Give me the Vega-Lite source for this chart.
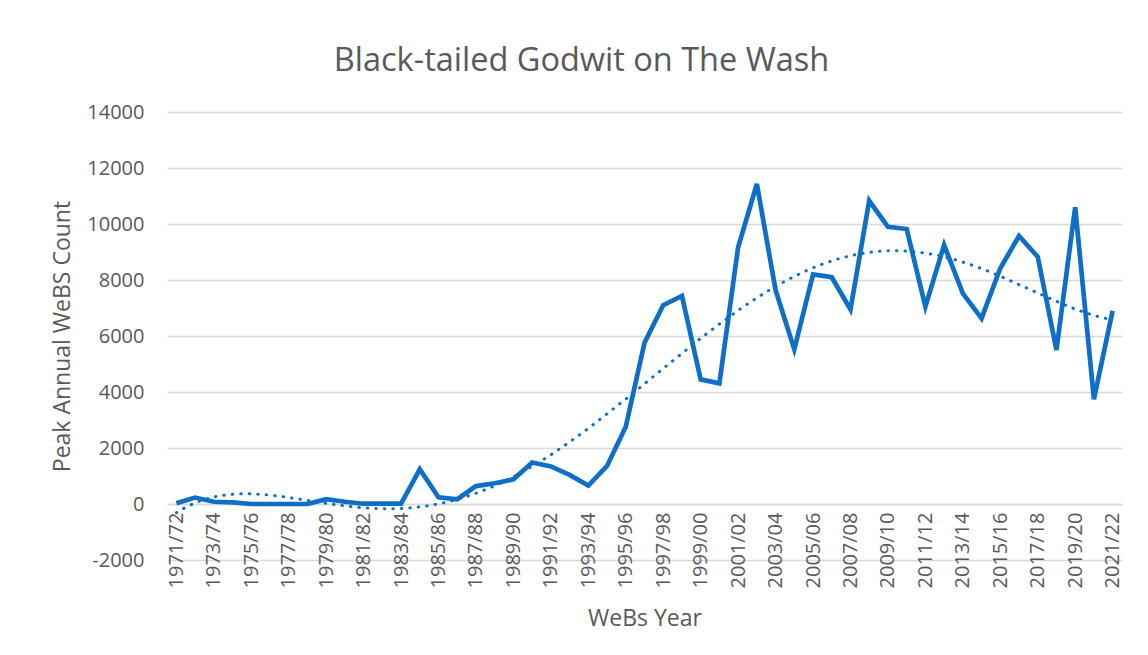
{
  "$schema": "https://vega.github.io/schema/vega-lite/v6.json",
  "autosize": {"type": "none"},
  "width": 955,
  "height": 448,
  "padding": {"left": 167, "top": 112, "right": 26, "bottom": 95},
  "background": "white",
  "config": {
    "view": {"stroke": null},
    "font": "Open Sans",
    "title": {"font": "Open Sans", "fontSize": 32.5, "fontWeight": "normal", "color": "#595959", "anchor": "middle", "frame": "group", "baseline": "alphabetic", "offset": 25, "dx": -63}
  },
  "title": "Black-tailed Godwit on The Wash",
  "data": {
    "values": [
      {"season": "1971/72", "year": 1971, "count": 30},
      {"season": "1972/73", "year": 1972, "count": 230},
      {"season": "1973/74", "year": 1973, "count": 80},
      {"season": "1974/75", "year": 1974, "count": 60},
      {"season": "1975/76", "year": 1975, "count": 0},
      {"season": "1976/77", "year": 1976, "count": 0},
      {"season": "1977/78", "year": 1977, "count": 0},
      {"season": "1978/79", "year": 1978, "count": 0},
      {"season": "1979/80", "year": 1979, "count": 170},
      {"season": "1980/81", "year": 1980, "count": 80},
      {"season": "1981/82", "year": 1981, "count": 10},
      {"season": "1982/83", "year": 1982, "count": 10},
      {"season": "1983/84", "year": 1983, "count": 10},
      {"season": "1984/85", "year": 1984, "count": 1240},
      {"season": "1985/86", "year": 1985, "count": 240},
      {"season": "1986/87", "year": 1986, "count": 170},
      {"season": "1987/88", "year": 1987, "count": 640},
      {"season": "1988/89", "year": 1988, "count": 740},
      {"season": "1989/90", "year": 1989, "count": 880},
      {"season": "1990/91", "year": 1990, "count": 1480},
      {"season": "1991/92", "year": 1991, "count": 1340},
      {"season": "1992/93", "year": 1992, "count": 1040},
      {"season": "1993/94", "year": 1993, "count": 660},
      {"season": "1994/95", "year": 1994, "count": 1360},
      {"season": "1995/96", "year": 1995, "count": 2760},
      {"season": "1996/97", "year": 1996, "count": 5760},
      {"season": "1997/98", "year": 1997, "count": 7100},
      {"season": "1998/99", "year": 1998, "count": 7430},
      {"season": "1999/00", "year": 1999, "count": 4450},
      {"season": "2000/01", "year": 2000, "count": 4310},
      {"season": "2001/02", "year": 2001, "count": 9170},
      {"season": "2002/03", "year": 2002, "count": 11430},
      {"season": "2003/04", "year": 2003, "count": 7640},
      {"season": "2004/05", "year": 2004, "count": 5520},
      {"season": "2005/06", "year": 2005, "count": 8200},
      {"season": "2006/07", "year": 2006, "count": 8100},
      {"season": "2007/08", "year": 2007, "count": 6950},
      {"season": "2008/09", "year": 2008, "count": 10830},
      {"season": "2009/10", "year": 2009, "count": 9900},
      {"season": "2010/11", "year": 2010, "count": 9820},
      {"season": "2011/12", "year": 2011, "count": 7050},
      {"season": "2012/13", "year": 2012, "count": 9250},
      {"season": "2013/14", "year": 2013, "count": 7520},
      {"season": "2014/15", "year": 2014, "count": 6630},
      {"season": "2015/16", "year": 2015, "count": 8420},
      {"season": "2016/17", "year": 2016, "count": 9570},
      {"season": "2017/18", "year": 2017, "count": 8830},
      {"season": "2018/19", "year": 2018, "count": 5500},
      {"season": "2019/20", "year": 2019, "count": 10600},
      {"season": "2020/21", "year": 2020, "count": 3740},
      {"season": "2021/22", "year": 2021, "count": 6900}
    ]
  },
  "encoding": {
    "x": {
      "field": "year",
      "type": "quantitative",
      "scale": {"domain": [1970.5, 2021.5], "nice": false, "zero": false},
      "axis": {
        "values": [1971, 1973, 1975, 1977, 1979, 1981, 1983, 1985, 1987, 1989, 1991, 1993, 1995, 1997, 1999, 2001, 2003, 2005, 2007, 2009, 2011, 2013, 2015, 2017, 2019, 2021],
        "labelExpr": "datum.value + '/' + substring('' + (datum.value + 1), 2)",
        "offset": -56,
        "grid": false,
        "ticks": false,
        "tickSize": 0,
        "domain": true,
        "domainColor": "#d9d9d9",
        "domainWidth": 1.5,
        "labelAngle": -90,
        "labelAlign": "right",
        "labelBaseline": "middle",
        "labelPadding": 8,
        "labelFont": "Open Sans",
        "labelFontSize": 20,
        "labelColor": "#595959",
        "labelOverlap": false,
        "labelFlush": false,
        "title": "WeBs Year",
        "titleFont": "Open Sans",
        "titleFontSize": 23,
        "titleFontWeight": "normal",
        "titleColor": "#595959",
        "titleBaseline": "alphabetic",
        "titleY": 121
      }
    },
    "y": {
      "field": "count",
      "type": "quantitative",
      "scale": {"domain": [-2000, 14000], "nice": false, "zero": false},
      "axis": {
        "values": [-2000, 0, 2000, 4000, 6000, 8000, 10000, 12000, 14000],
        "labelExpr": "'' + datum.value",
        "grid": true,
        "gridColor": "#d9d9d9",
        "gridWidth": 1.3,
        "domain": false,
        "ticks": false,
        "tickSize": 0,
        "labelPadding": 23,
        "labelFont": "Open Sans",
        "labelFontSize": 20,
        "labelColor": "#595959",
        "labelBaseline": "middle",
        "title": "Peak Annual WeBS Count",
        "titleFont": "Open Sans",
        "titleFontSize": 23,
        "titleFontWeight": "normal",
        "titleColor": "#595959",
        "titleAngle": -90,
        "titleAlign": "center",
        "titleBaseline": "middle",
        "titleX": -105,
        "titleY": 224
      }
    }
  },
  "layer": [
    {
      "mark": {"type": "line", "color": "#0f6fc6", "strokeWidth": 4.7, "strokeJoin": "miter"}
    },
    {
      "transform": [
        {"regression": "count", "on": "year", "method": "poly", "order": 6, "extent": [1971, 2021]}
      ],
      "mark": {"type": "line", "color": "#0f6fc6", "strokeWidth": 3, "strokeCap": "round", "strokeDash": [0.5, 8]}
    }
  ]
}
